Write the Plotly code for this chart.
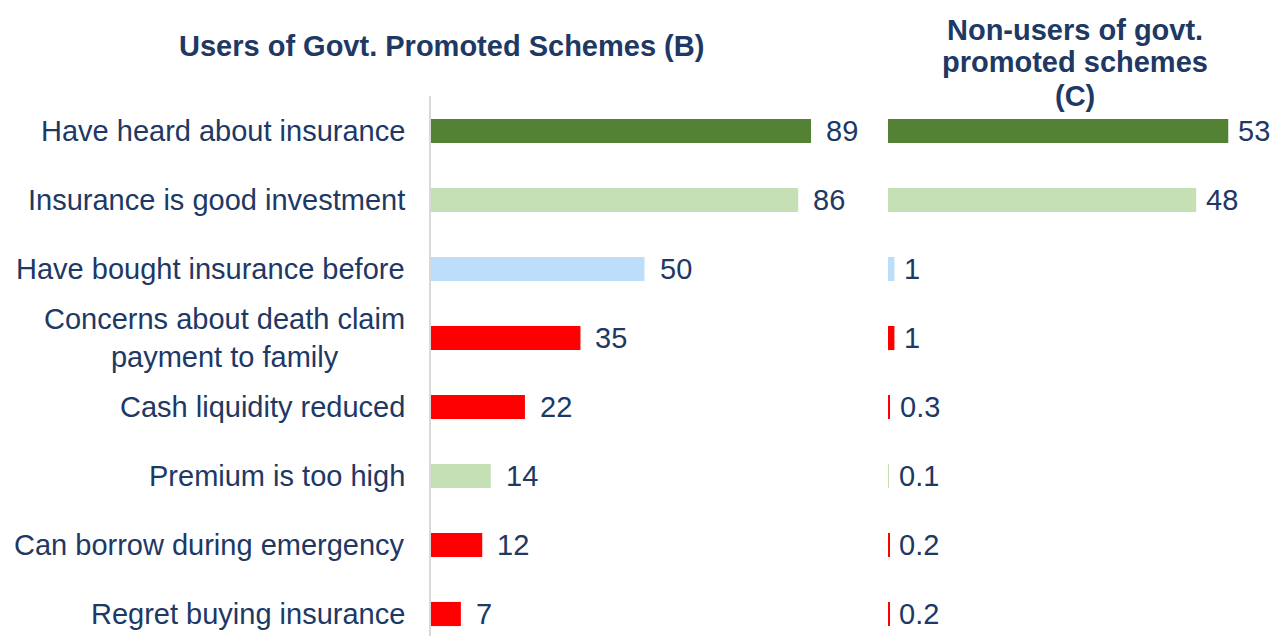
import plotly.graph_objects as go

categories = [
    "Have heard about insurance",
    "Insurance is good investment",
    "Have bought insurance before",
    "Concerns about death claim<br>payment to family",
    "Cash liquidity reduced",
    "Premium is too high",
    "Can borrow during emergency",
    "Regret buying insurance",
]
users_b = [89, 86, 50, 35, 22, 14, 12, 7]
users_b_text = ["89", "86", "50", "35", "22", "14", "12", "7"]
nonusers_c = [53, 48, 1, 1, 0.3, 0.1, 0.2, 0.2]
nonusers_c_text = ["53", "48", "1", "1", "0.3", "0.1", "0.2", "0.2"]
bar_colors = ["#548235", "#C5E0B4", "#BDDEFB", "#FF0000",
              "#FF0000", "#C5E0B4", "#FF0000", "#FF0000"]
title_b = "Users of Govt. Promoted Schemes (B)"
title_c_lines = ["Non-users of govt.", "promoted schemes", "(C)"]

# page has an 8px body margin; work in screen pixels and convert
OFF = 8
W, H = 1279 - 2 * OFF, 644 - 2 * OFF
L, T = 431 - OFF, 96 - OFF
TXT = "#203864"
FONT = "Liberation Sans, Arial, sans-serif"
FS = 29
ROW = 69.0  # pixels per category step

def px_x(sx):
    return (sx - OFF - L) / (W - L)

def px_y(sy):
    return (H - (sy - OFF)) / (H - T)

fig = go.Figure()
fig.add_trace(go.Bar(x=users_b, y=categories, orientation="h",
                     marker=dict(color=bar_colors, line=dict(width=0)),
                     width=0.35, xaxis="x", yaxis="y", hoverinfo="skip"))
fig.add_trace(go.Bar(x=nonusers_c, y=categories, orientation="h",
                     marker=dict(color=bar_colors, line=dict(width=0)),
                     width=0.35, xaxis="x2", yaxis="y", hoverinfo="skip"))

ann = []
for cat, v, t in zip(categories, users_b, users_b_text):
    ann.append(dict(x=v, y=cat, xref="x", yref="y", text=t, showarrow=False,
                    xanchor="left", xshift=13, font=dict(size=FS, color=TXT, family=FONT)))
for cat, v, t in zip(categories, nonusers_c, nonusers_c_text):
    ann.append(dict(x=v, y=cat, xref="x2", yref="y", text=t, showarrow=False,
                    xanchor="left", xshift=8, font=dict(size=FS, color=TXT, family=FONT)))
for cat in categories:
    ann.append(dict(x=0, y=cat, xref="paper", yref="y", text=cat, showarrow=False,
                    xanchor="right", xshift=-24, align="center",
                    font=dict(size=FS, color=TXT, family=FONT)))
ann.append(dict(x=px_x(441), y=px_y(46), xref="paper", yref="paper", text="<b>" + title_b + "</b>",
                showarrow=False, xanchor="center", yanchor="middle",
                font=dict(size=FS, color=TXT, family=FONT)))
for line, sy in zip(title_c_lines, [30, 62, 96]):
    ann.append(dict(x=px_x(1075), y=px_y(sy), xref="paper", yref="paper",
                    text="<b>" + line + "</b>", showarrow=False,
                    xanchor="center", yanchor="middle",
                    font=dict(size=FS, color=TXT, family=FONT)))

plot_top, plot_bot = T + OFF, H + OFF
y_lo = -(131 - plot_top) / ROW
y_hi = 7 + (plot_bot - 614) / ROW

fig.update_layout(
    width=W, height=H,
    margin=dict(l=L, r=0, t=T, b=0),
    paper_bgcolor="white", plot_bgcolor="white",
    showlegend=False,
    annotations=ann,
    xaxis=dict(domain=[0, px_x(858)], range=[0, 100], visible=False, fixedrange=True),
    xaxis2=dict(domain=[px_x(888), 1], range=[0, (W + OFF - 888) / 6.42], visible=False,
                anchor="y", fixedrange=True),
    yaxis=dict(categoryorder="array", categoryarray=categories,
               range=[y_hi, y_lo], showticklabels=False, showgrid=False,
               zeroline=False, showline=True, linecolor="#D9D9D9", linewidth=2,
               ticks="", fixedrange=True),
)
fig.write_html("out.html")
